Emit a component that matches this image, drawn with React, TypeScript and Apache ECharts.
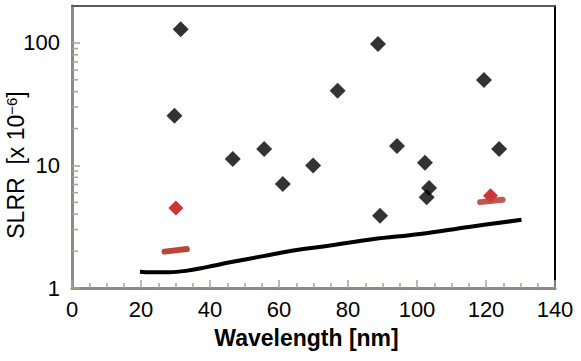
import React, { useEffect, useRef } from "react";
import * as echarts from "echarts";

const FONT = "'Liberation Sans Narrow', 'Arial Narrow', 'Liberation Sans', Arial, sans-serif";

// Black diamonds: [wavelength nm, SLRR x1e-6]
const measured: [number, number][] = [
  [31.5, 129], [29.7, 25.4], [46.6, 11.3], [55.7, 13.6], [61.1, 7.06],
  [69.9, 10.0], [77.0, 40.6], [88.7, 98], [89.3, 3.89], [94.2, 14.4],
  [102.3, 10.5], [103.5, 6.55], [102.8, 5.5], [119.4, 49.9], [123.8, 13.6],
];
// Red diamonds
const redPoints: [number, number][] = [[30.1, 4.5], [121.3, 5.66]];
// Red-brown short segments
const segA: [number, number][] = [[26.8, 1.98], [33.3, 2.08]];
const segB: [number, number][] = [[118.3, 5.02], [124.8, 5.25]];
// Black curve
const curve: [number, number][] = [
  [19.7, 1.36], [23.0, 1.345], [28.0, 1.345], [33.0, 1.38], [39.0, 1.48], [45.8, 1.62], [55.4, 1.82],
  [65.1, 2.04], [74.8, 2.22], [87.0, 2.5], [100.9, 2.76], [115.0, 3.15], [130.3, 3.6],
];
const xTicks = [0, 20, 40, 60, 80, 100, 120, 140];
const yMinorTicks = [2, 3, 4, 5, 6, 7, 8, 9, 20, 30, 40, 50, 60, 70, 80, 90];

export default function App() {
  const ref = useRef<HTMLDivElement>(null);
  useEffect(() => {
    if (!ref.current) return;
    const chart = echarts.init(ref.current, null, { renderer: "svg" });
    const axisGrey = "#8a8a8a";
    const tickCol = "#a8a48c";
    chart.setOption({
      animation: false,
      grid: {
        left: 72, top: 6, right: 26, bottom: 73, containLabel: false,
        show: true, borderColor: "#5a5a5a", borderWidth: 2, backgroundColor: "rgba(0,0,0,0)",
      },
      xAxis: [
        {
          type: "value",
          min: xTicks[0],
          max: xTicks[xTicks.length - 1],
          interval: 20,
          name: "Wavelength [nm]",
          nameLocation: "middle",
          nameGap: 38,
          nameTextStyle: { fontFamily: FONT, fontSize: 23, fontWeight: "bold", color: "#000", padding: [0, 14, 0, 0] },
          axisLine: { onZero: false, lineStyle: { color: axisGrey, width: 3 } },
          axisTick: { inside: true, length: 8, lineStyle: { color: tickCol, width: 1.5 } },
          minorTick: { show: true, splitNumber: 4, length: 5, lineStyle: { color: tickCol, width: 1.5 } },
          axisLabel: { fontFamily: FONT, fontSize: 22, color: "#000", margin: 10 },
          splitLine: { show: false },
        },
        {
          type: "value",
          position: "top",
          min: 0,
          max: 1,
          show: true,
          axisLine: { show: true, onZero: false, lineStyle: { color: "#5a5a5a", width: 2 } },
          axisTick: { show: false },
          axisLabel: { show: false },
          splitLine: { show: false },
        },
      ],
      yAxis: [
        {
          type: "log",
          logBase: 10,
          min: 1,
          max: 200,
          axisLine: { show: true, onZero: false, lineStyle: { color: axisGrey, width: 3 } },
          axisTick: { inside: true, length: 8, lineStyle: { color: tickCol, width: 1.5 } },
          axisLabel: { fontFamily: FONT, fontSize: 22, color: "#000", margin: 12, showMaxLabel: false },
          splitLine: { show: false },
        },
        {
          type: "value",
          position: "right",
          min: 0,
          max: 1,
          axisLine: { show: true, onZero: false, lineStyle: { color: "#000", width: 2 } },
          axisTick: { show: false },
          axisLabel: { show: false },
          splitLine: { show: false },
        },
      ],
      graphic: [
        {
          type: "text",
          x: 16,
          y: 165,
          rotation: Math.PI / 2,
          style: {
            text: "{m|SLRR  [x 10}{s|−6}{m|]}",
            align: "center",
            verticalAlign: "middle",
            fill: "#000",
            rich: {
              m: { fontFamily: FONT, fontSize: 23, fill: "#000" },
              s: { fontFamily: FONT, fontSize: 15, fill: "#000", padding: [0, 0, 10, 0] },
            },
          },
        },
      ],
      series: [
        {
          type: "custom",
          name: "yMinor",
          xAxisIndex: 0,
          yAxisIndex: 0,
          silent: true,
          clip: false,
          data: yMinorTicks.map((v) => [0, v]),
          renderItem: (_params: any, api: any) => {
            const p = api.coord([0, api.value(1)]);
            return {
              type: "line",
              shape: { x1: p[0], y1: p[1], x2: p[0] + 6, y2: p[1] },
              style: { stroke: tickCol, lineWidth: 1.5 },
            };
          },
        },
        {
          type: "line",
          name: "curve",
          data: curve,
          smooth: 0.4,
          showSymbol: false,
          symbol: "none",
          lineStyle: { color: "#000", width: 4 },
        },
        {
          type: "line",
          name: "segA",
          data: segA,
          showSymbol: false,
          symbol: "none",
          lineStyle: { color: "#b8473c", width: 6, cap: "round" },
        },
        {
          type: "line",
          name: "segB",
          data: segB,
          showSymbol: false,
          symbol: "none",
          z: 3,
          lineStyle: { color: "#b8473c", width: 6, cap: "round", opacity: 0.9 },
        },
        {
          type: "scatter",
          name: "measured",
          data: measured,
          symbol: "diamond",
          symbolSize: 16,
          itemStyle: { color: "#000" },
        },
        {
          type: "scatter",
          name: "red",
          data: redPoints,
          symbol: "diamond",
          symbolSize: 15,
          z: 2,
          itemStyle: { color: "#c40000" },
        },
      ],
    });
    return () => chart.dispose();
  }, []);
  return (
    <div style={{ position: "absolute", left: 0, top: 0 }}>
      <div ref={ref} style={{ width: 581, height: 361 }} />
    </div>
  );
}
